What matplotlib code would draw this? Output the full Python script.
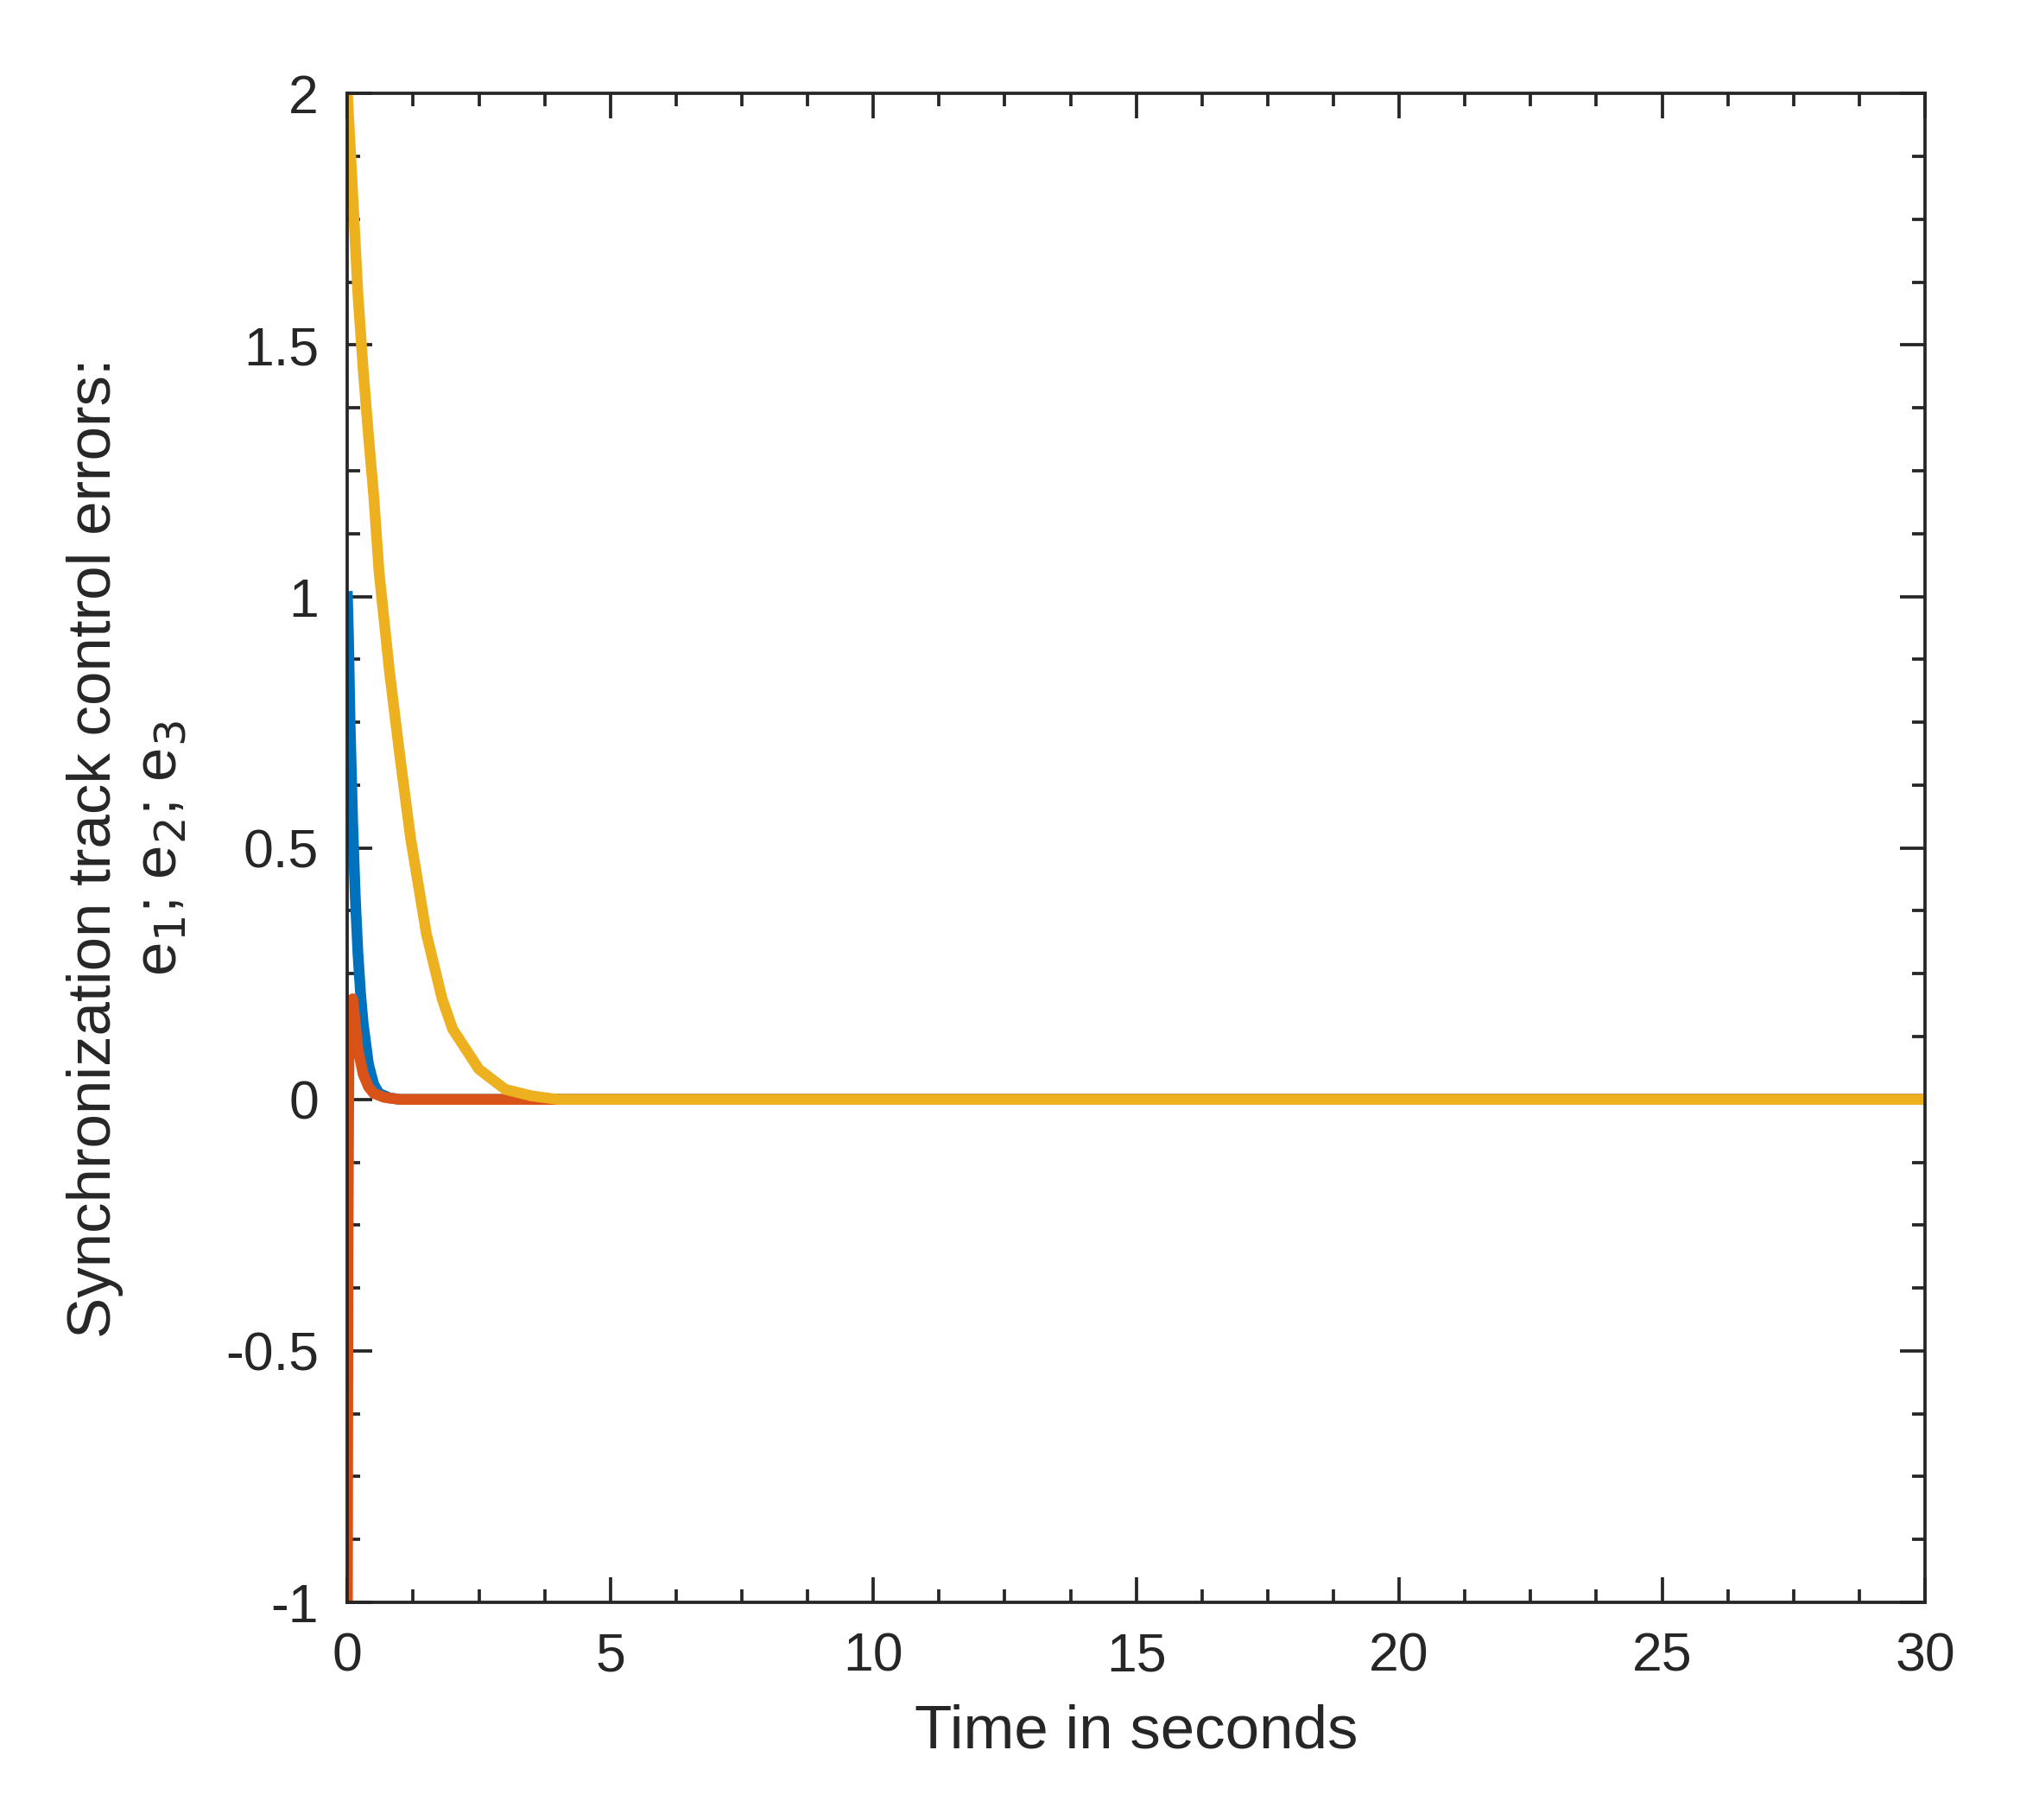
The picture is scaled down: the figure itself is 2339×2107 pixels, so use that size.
import numpy as np
import matplotlib
matplotlib.use('Agg')
import matplotlib.pyplot as plt
from matplotlib.ticker import MultipleLocator

plt.rcParams['font.family'] = ['Liberation Sans', 'DejaVu Sans']

# e1 (blue)
t1 = [0, 0.02, 0.05, 0.1, 0.15, 0.2, 0.25, 0.3, 0.4, 0.5, 0.6, 0.8, 1.0, 30]
e1 = [1.0, 0.92, 0.75, 0.55, 0.4, 0.29, 0.21, 0.15, 0.07, 0.03, 0.012, 0.003, 0.0, 0.0]
# e2 (red)
t2 = [0, 0.01, 0.03, 0.06, 0.1, 0.15, 0.2, 0.3, 0.4, 0.5, 0.7, 1.0, 30]
e2 = [-1.0, -0.3, 0.12, 0.17, 0.2, 0.15, 0.1, 0.05, 0.025, 0.012, 0.004, 0.0, 0.0]
# e3 (yellow)
t3 = [0, 0.05, 0.1, 0.2, 0.3, 0.4, 0.5, 0.6, 0.8, 1.0, 1.2, 1.5, 1.8, 2.0, 2.5, 3.0, 3.5, 4.0, 30]
e3 = [2.0, 1.9, 1.8, 1.6, 1.45, 1.32, 1.2, 1.05, 0.85, 0.68, 0.52, 0.33, 0.2, 0.14, 0.06, 0.02, 0.007, 0.0, 0.0]

fig = plt.figure(figsize=(2339/300, 2107/300), dpi=300)
ax = fig.add_axes([0.172, 0.1196, 0.781, 0.829])
lw = 3.0
ax.plot(t1, e1, color='#0072BD', lw=lw)
ax.plot(t2, e2, color='#D95319', lw=lw)
ax.plot(t3, e3, color='#EDB120', lw=lw)

ax.set_xlim(0, 30)
ax.set_ylim(-1, 2)
ax.set_xticks([0, 5, 10, 15, 20, 25, 30])
ax.set_yticks([-1, -0.5, 0, 0.5, 1, 1.5, 2])
ax.set_yticklabels(['-1', '-0.5', '0', '0.5', '1', '1.5', '2'])
ax.xaxis.set_minor_locator(MultipleLocator(1.25))
ax.yaxis.set_minor_locator(MultipleLocator(0.125))
ax.tick_params(which='both', direction='in', top=True, right=True, colors='#262626',
               labelsize=15, width=0.9, pad=8)
ax.tick_params(which='major', length=7)
ax.tick_params(which='minor', length=3.5)
for s in ax.spines.values():
    s.set_color('#262626')
    s.set_linewidth(0.9)

ax.set_xlabel('Time in seconds', fontsize=17, color='#262626', labelpad=6)
ax.set_ylabel('Synchronization track control errors:\n'
              r'e$_1$; e$_2$; e$_3$', fontsize=17, color='#262626', linespacing=1.2, labelpad=10)

fig.savefig('out.png', dpi=300)
